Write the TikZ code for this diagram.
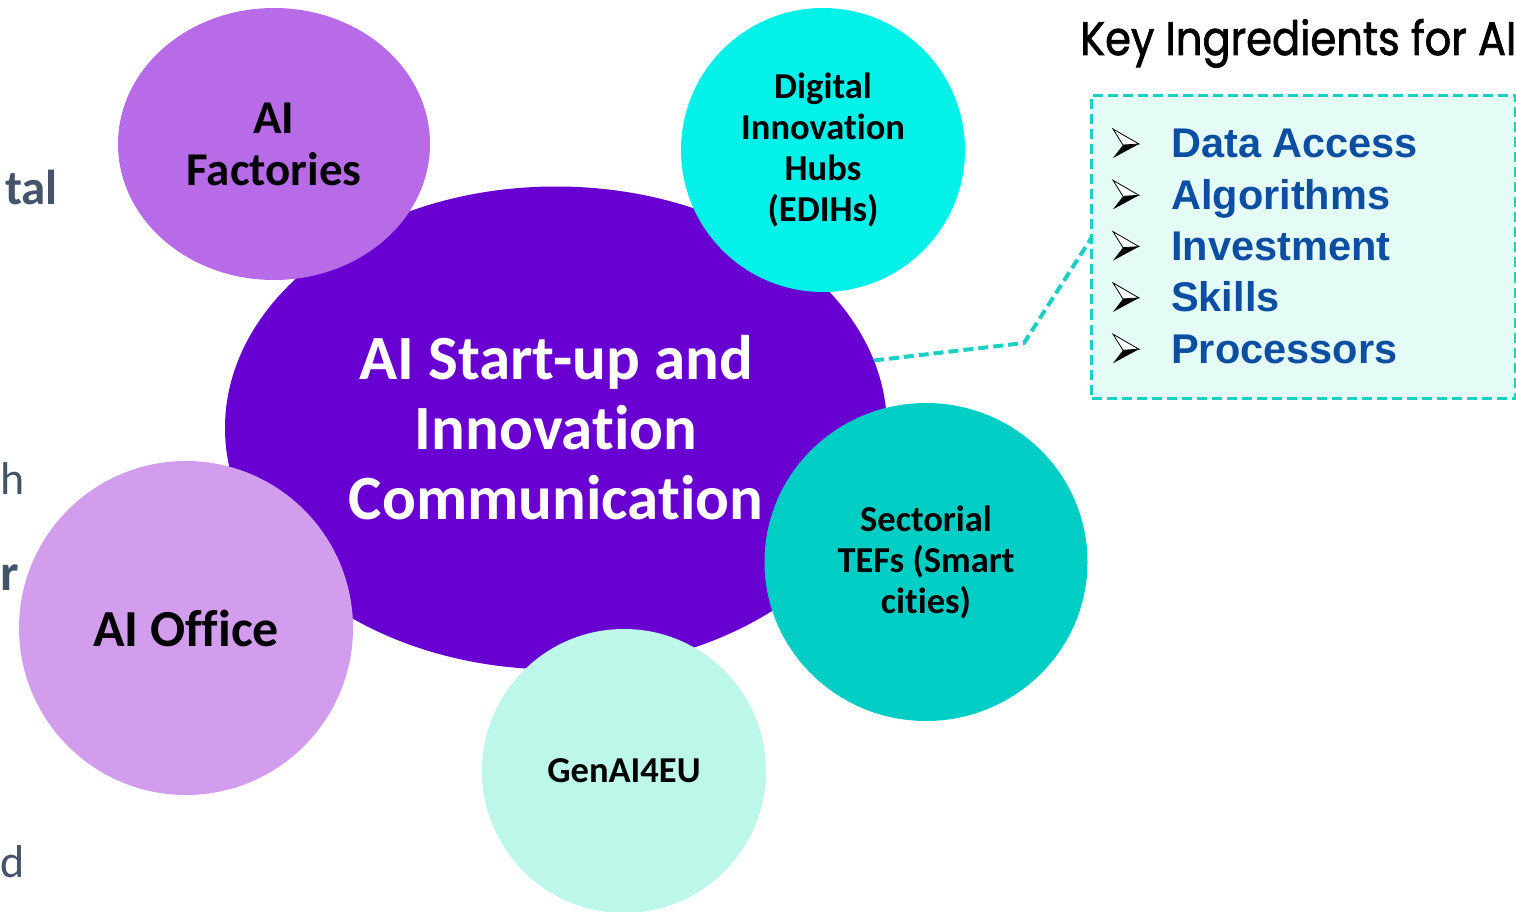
\documentclass[tikz,border=0pt]{standalone}
\usepackage{fontspec}
\setmainfont{Carlito}[Ligatures={NoCommon}]
\newfontfamily\listfont{Liberation Sans}
\newfontfamily\titlefont{Poppins}[FakeBold=1.6]
\usetikzlibrary{shapes.geometric}
\definecolor{mainpurple}{HTML}{6800D2}
\definecolor{factories}{HTML}{B86BE7}
\definecolor{hubs}{HTML}{03F1E9}
\definecolor{tefs}{HTML}{00CEC4}
\definecolor{genai}{HTML}{BDF7E9}
\definecolor{office}{HTML}{D39DEE}
\definecolor{dashteal}{HTML}{1CCFC3}
\definecolor{boxfill}{HTML}{E4FBF6}
\definecolor{listblue}{HTML}{0B4EA2}
\definecolor{slate}{HTML}{44546A}
\tikzset{
  bubble/.style={ellipse, inner sep=0pt, align=center, font=\bfseries},
  smalltext/.style={font=\fontsize{36.5}{41}\selectfont\bfseries},
  tealdash/.style={draw=dashteal, line width=3pt, dash pattern=on 10pt off 5pt},
  item/.style={anchor=base west, text=listblue, inner sep=0pt, font=\listfont\fontsize{41.5}{45}\selectfont\bfseries},
  edgetext/.style={text=slate, inner sep=0pt, anchor=base west}
}
\begin{document}
\begin{tikzpicture}[x=1pt,y=-1pt]
\useasboundingbox (0,0) rectangle (1516,912);
% left edge text
\node[edgetext, anchor=base east, font=\fontsize{49}{50}\selectfont\bfseries] (t1) at (58,205) {tal};
\node[edgetext, font=\fontsize{46}{50}\selectfont] (t2) at (0.5,494) {h};
\node[edgetext, font=\fontsize{52}{58}\selectfont\bfseries] (t3) at (0.5,590) {r};
\node[edgetext, font=\fontsize{46}{50}\selectfont] (t4) at (0.5,877) {d};
% main ellipse
\node[bubble, fill=mainpurple, text=white, minimum width=662pt, minimum height=483pt,
  font=\fontsize{63}{70}\selectfont\bfseries] (main) at (556,428)
  {AI Start-up and\\Innovation\\Communication};
% satellites
\node[bubble, fill=factories, minimum width=312pt, minimum height=272pt,
  font=\fontsize{47}{52}\selectfont\bfseries] (fact) at (274,144) {AI\\Factories};
\node[bubble, fill=hubs, minimum width=284pt, minimum height=284pt, smalltext] (hub) at (823,150)
  {Digital\\Innovation\\Hubs\\(EDIHs)};
\node[bubble, fill=tefs, minimum width=323pt, minimum height=318pt, smalltext] (tef) at (926,562)
  {Sectorial\\TEFs (Smart\\cities)};
\node[bubble, fill=genai, minimum width=284pt, minimum height=284pt, smalltext] (gen) at (624,771)
  {GenAI4EU};
\node[bubble, fill=office, minimum width=334pt, minimum height=334pt,
  font=\fontsize{52}{56}\selectfont\bfseries] (office) at (186,628) {AI Office};
% key ingredients
\node[anchor=base west, inner sep=0pt] (title) at (1080,55)
  {\resizebox{436pt}{36pt}{\titlefont Key Ingredients for AI}};
\node[tealdash, fill=boxfill, minimum width=424pt, minimum height=303pt, anchor=north west, inner sep=0pt] (box) at (1090,94) {};
\coordinate (bend) at (1024,343);
\coordinate (boxin) at (1092,237);
\draw[tealdash, line width=4pt] (main.12.7) -- (bend) -- (boxin);
\foreach \txt [count=\i from 0] in {Data Access,Algorithms,Investment,Skills,Processors}{
  \pgfmathsetmacro{\by}{158+51.3*\i}
  \pgfmathsetmacro{\cy}{\by-14}
  \node[item] (it\i) at (1171,\by) {\txt};
  \fill[black] (1123,\cy+1) -- (1139,\cy) -- (1113,\cy+14) -- cycle;
  \filldraw[fill=white, draw=black, line width=0.8pt, line join=miter] (1113,\cy-15) -- (1139,\cy) -- (1123,\cy+1) -- cycle;
}
\end{tikzpicture}
\end{document}
